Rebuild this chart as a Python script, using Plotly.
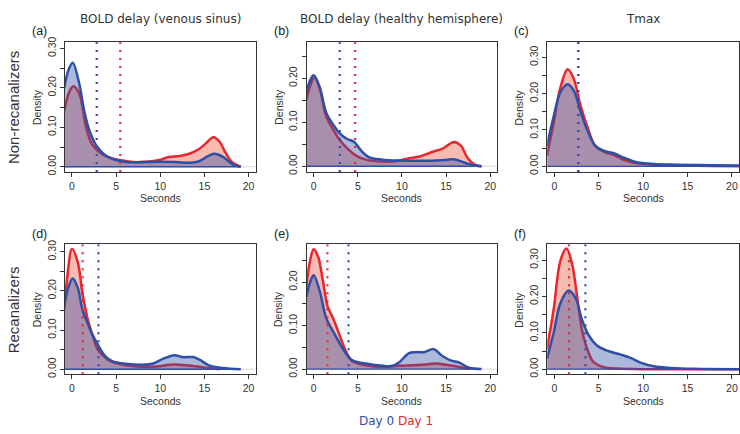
import plotly.graph_objects as go

W, H = 740, 434

col_titles = ["BOLD delay (venous sinus)", "BOLD delay (healthy hemisphere)", "Tmax"]
row_titles = ["Non-recanalizers", "Recanalizers"]
panel_letters = ["(a)", "(b)", "(c)", "(d)", "(e)", "(f)"]
x_tick_vals = [0, 5, 10, 15, 20]
series_names = ["Day 0", "Day 1"]

# ---- density curves (Day 0 = blue, Day 1 = red) ----
a_day0_x = [-0.87, -0.4, 0.08, 0.83, 1.4, 2.0, 2.8, 3.85, 5.0, 6.1, 8.0, 9.9, 11.8, 13.3, 14.4, 15.4, 16.1, 17.1, 18.2, 19.1]
a_day0_y = [0.20, 0.245, 0.264, 0.21, 0.14, 0.09, 0.052, 0.028, 0.017, 0.012, 0.012, 0.0125, 0.012, 0.010, 0.014, 0.027, 0.033, 0.025, 0.006, 0.0]
a_day1_x = [-0.87, -0.3, 0.15, 0.83, 1.6, 2.3, 3.1, 4.2, 5.4, 6.9, 8.4, 9.9, 11.0, 12.2, 13.3, 14.4, 15.2, 16.0, 16.7, 17.4, 18.2, 19.1]
a_day1_y = [0.143, 0.19, 0.204, 0.185, 0.10, 0.056, 0.037, 0.024, 0.017, 0.012, 0.0125, 0.017, 0.025, 0.027, 0.033, 0.045, 0.06, 0.075, 0.064, 0.035, 0.01, 0.0]

b_day0_x = [-0.83, -0.4, 0.0, 0.68, 1.43, 2.2, 2.9, 3.7, 4.6, 5.4, 6.3, 7.8, 9.7, 11.6, 13.5, 15.0, 15.9, 17.2, 18.3, 19.0]
b_day0_y = [0.166, 0.195, 0.207, 0.18, 0.121, 0.095, 0.076, 0.063, 0.055, 0.035, 0.02, 0.015, 0.013, 0.0127, 0.0127, 0.014, 0.016, 0.0075, 0.0015, 0.0]
b_day1_x = [-0.83, -0.35, 0.1, 0.68, 1.43, 2.2, 2.9, 3.9, 4.8, 5.9, 7.8, 9.7, 10.8, 12.0, 13.5, 14.6, 15.9, 16.7, 17.4, 18.3, 19.0]
b_day1_y = [0.15, 0.185, 0.203, 0.177, 0.113, 0.084, 0.061, 0.039, 0.024, 0.015, 0.0105, 0.0127, 0.018, 0.022, 0.033, 0.040, 0.055, 0.046, 0.02, 0.003, 0.0]

c_day0_x = [-0.83, -0.08, 0.68, 1.5, 2.2, 2.9, 3.7, 4.6, 5.6, 6.7, 7.8, 9.3, 11.2, 13.9, 17.6, 21.0]
c_day0_y = [0.056, 0.137, 0.204, 0.226, 0.208, 0.155, 0.10, 0.057, 0.042, 0.036, 0.024, 0.011, 0.0063, 0.0045, 0.0027, 0.0018]
c_day1_x = [-0.83, -0.08, 0.68, 1.5, 2.2, 2.9, 3.7, 4.6, 5.6, 6.7, 7.8, 9.3, 11.2, 13.9, 17.6, 21.0]
c_day1_y = [0.029, 0.119, 0.217, 0.267, 0.24, 0.172, 0.11, 0.056, 0.04, 0.031, 0.018, 0.008, 0.0045, 0.0027, 0.001, 0.0]

d_day0_x = [-0.87, -0.4, 0.08, 0.64, 1.2, 1.8, 2.3, 2.9, 3.7, 4.6, 6.1, 8.0, 9.1, 10.3, 11.6, 12.5, 13.7, 14.4, 15.5, 17.1, 19.1]
d_day0_y = [0.163, 0.21, 0.232, 0.209, 0.151, 0.116, 0.089, 0.064, 0.035, 0.02, 0.014, 0.0116, 0.014, 0.0265, 0.036, 0.031, 0.031, 0.025, 0.01, 0.0033, 0.0]
d_day1_x = [-0.87, -0.5, 0.0, 0.64, 1.2, 1.8, 2.3, 2.9, 3.5, 4.6, 6.1, 8.0, 9.9, 11.0, 12.2, 13.7, 14.8, 15.9, 16.7]
d_day1_y = [0.155, 0.242, 0.307, 0.275, 0.192, 0.126, 0.089, 0.051, 0.035, 0.018, 0.01, 0.006, 0.0075, 0.0116, 0.0116, 0.0083, 0.005, 0.0017, 0.0]

e_day0_x = [-0.83, -0.4, 0.0, 0.68, 1.43, 2.2, 2.9, 3.7, 4.4, 5.9, 7.8, 8.9, 9.7, 10.8, 11.6, 12.5, 13.6, 14.4, 15.5, 16.5, 17.6, 19.0]
e_day0_y = [0.166, 0.20, 0.216, 0.18, 0.117, 0.087, 0.061, 0.035, 0.02, 0.0127, 0.0075, 0.0075, 0.016, 0.037, 0.039, 0.039, 0.046, 0.033, 0.02, 0.015, 0.003, 0.0]
e_day1_x = [-0.83, -0.4, 0.0, 0.5, 1.05, 1.6, 2.2, 2.9, 3.7, 4.4, 5.9, 7.8, 9.7, 11.2, 12.7, 13.8, 15.3, 16.5, 17.6]
e_day1_y = [0.188, 0.25, 0.276, 0.259, 0.203, 0.143, 0.117, 0.08, 0.039, 0.018, 0.009, 0.005, 0.0075, 0.009, 0.0105, 0.0127, 0.009, 0.005, 0.0]

f_day0_x = [-0.83, -0.08, 0.68, 1.6, 2.4, 3.1, 3.9, 4.8, 5.95, 7.5, 8.6, 9.7, 11.2, 13.1, 15.7, 21.0]
f_day0_y = [0.029, 0.10, 0.181, 0.216, 0.195, 0.137, 0.092, 0.065, 0.051, 0.04, 0.031, 0.018, 0.008, 0.0036, 0.001, 0.0]
f_day1_x = [-0.83, -0.08, 0.68, 1.36, 2.0, 2.56, 3.1, 3.7, 4.4, 5.6, 7.1, 10.0, 21.0]
f_day1_y = [0.056, 0.164, 0.298, 0.332, 0.289, 0.20, 0.11, 0.056, 0.02, 0.0054, 0.0018, 0.0, 0.0]

# dotted reference lines (per panel a..f)
day0_center = [2.8, 2.96, 2.7, 3.0, 3.95, 3.5]
day1_center = [5.47, 4.7, 2.68, 1.21, 1.56, 1.65]

# y-axis ranges and ticks per panel
y_ranges = [[-0.0135, 0.316], [-0.0133, 0.282], [-0.016, 0.342],
            [-0.013, 0.319], [-0.012, 0.287], [-0.014, 0.343]]
y_tick_max = [0.30, 0.25, 0.30, 0.30, 0.25, 0.30]

panels = [
    (a_day0_x, a_day0_y, a_day1_x, a_day1_y),
    (b_day0_x, b_day0_y, b_day1_x, b_day1_y),
    (c_day0_x, c_day0_y, c_day1_x, c_day1_y),
    (d_day0_x, d_day0_y, d_day1_x, d_day1_y),
    (e_day0_x, e_day0_y, e_day1_x, e_day1_y),
    (f_day0_x, f_day0_y, f_day1_x, f_day1_y),
]

# ---- styling / layout ----
BLUE = "#2E4FA8"
RED = "#E8262E"
BLUE_FILL = "rgba(47,79,165,0.40)"
RED_FILL = "rgba(238,90,70,0.42)"
AX = "#333333"
TICKFONT = dict(family="Liberation Sans, Arial", size=10.5, color="#333333")
TITLEFONT = dict(family="DejaVu Sans", size=12, color="#333333")

col_px = [(65, 256), (307, 498), (548, 740)]
row_px = [(37, 170), (244, 377)]
x_range = [-0.8, 20.8]

def px_x(p):
    return p / W

def px_y(p):
    return 1 - p / H

fig = go.Figure()
layout = dict(width=W, height=H, margin=dict(l=0, r=0, t=0, b=0),
              paper_bgcolor="white", plot_bgcolor="white", showlegend=False)
annotations = []
shapes = []

for i, (x0s, y0s, x1s, y1s) in enumerate(panels):
    r, c = divmod(i, 3)
    sfx = "" if i == 0 else str(i + 1)
    xa, ya = "x" + sfx, "y" + sfx
    (cl, cr), (rt, rb) = col_px[c], row_px[r]

    nt = int(round(y_tick_max[i] / 0.05)) + 1
    tv = [round(k * 0.05, 2) for k in range(nt)]
    tt = [("%.2f" % v) if k % 2 == 0 else "" for k, v in enumerate(tv)]

    layout["xaxis" + sfx] = dict(domain=[px_x(cl), px_x(cr)], anchor=ya, range=x_range,
                                 showgrid=False, zeroline=False, showline=True, mirror=True,
                                 linecolor=AX, linewidth=1, ticks="outside", ticklen=4,
                                 tickcolor=AX, tickvals=x_tick_vals, tickfont=TICKFONT,
                                 ticklabeloverflow="allow")
    layout["yaxis" + sfx] = dict(domain=[px_y(rb), px_y(rt)], anchor=xa, range=y_ranges[i],
                                 showgrid=False, zeroline=False, showline=True, mirror=True,
                                 linecolor=AX, linewidth=1, ticks="outside", ticklen=4,
                                 tickcolor=AX, tickvals=tv, ticktext=tt, tickangle=-90,
                                 tickfont=TICKFONT, ticklabeloverflow="allow")

    # light baseline across the panel
    fig.add_trace(go.Scatter(x=x_range, y=[0, 0], mode="lines", xaxis=xa, yaxis=ya,
                             line=dict(color="#D8D8DE", width=1), hoverinfo="skip"))
    # Day 1 (red) first, Day 0 (blue) on top
    fig.add_trace(go.Scatter(x=x1s, y=y1s, mode="lines", xaxis=xa, yaxis=ya, name=series_names[1],
                             line=dict(color=RED, width=2.5, shape="spline", smoothing=1.0),
                             fill="tozeroy", fillcolor=RED_FILL))
    fig.add_trace(go.Scatter(x=x0s, y=y0s, mode="lines", xaxis=xa, yaxis=ya, name=series_names[0],
                             line=dict(color=BLUE, width=2.5, shape="spline", smoothing=1.0),
                             fill="tozeroy", fillcolor=BLUE_FILL))
    # blue baseline under the density
    fig.add_trace(go.Scatter(x=[x0s[0], x0s[-1]], y=[0, 0], mode="lines", xaxis=xa, yaxis=ya,
                             line=dict(color=BLUE, width=1.3), hoverinfo="skip"))

    # dotted centre lines
    for val, colr in ((day1_center[i], RED), (day0_center[i], BLUE)):
        shapes.append(dict(type="line", xref=xa, yref=ya + " domain", x0=val, x1=val, y0=0, y1=1,
                           line=dict(color=colr, width=2.2, dash="2px,6px"), layer="above"))

    # panel letter
    annotations.append(dict(text=panel_letters[i], x=px_x(cl - 35), y=px_y(rt - 11),
                            xref="paper", yref="paper", xanchor="left", yanchor="middle",
                            showarrow=False, font=dict(family="Liberation Sans, Arial", size=12.5, color="#222")))
    # axis titles
    annotations.append(dict(text="Seconds", x=px_x((cl + cr) / 2), y=px_y(rb + 27),
                            xref="paper", yref="paper", xanchor="center", yanchor="middle",
                            showarrow=False, font=TICKFONT))
    annotations.append(dict(text="Density", x=px_x(cl - 28), y=px_y((rt + rb) / 2),
                            xref="paper", yref="paper", xanchor="center", yanchor="middle",
                            textangle=-90, showarrow=False, font=TICKFONT))

# column titles
for c, t in enumerate(col_titles):
    cl, cr = col_px[c]
    annotations.append(dict(text=t, x=px_x((cl + cr) / 2), y=px_y(13), xref="paper", yref="paper",
                            xanchor="center", yanchor="middle", showarrow=False, font=TITLEFONT))
# row titles
for r, t in enumerate(row_titles):
    rt, rb = row_px[r]
    annotations.append(dict(text=t, x=px_x(13), y=px_y((rt + rb) / 2), xref="paper", yref="paper",
                            xanchor="center", yanchor="middle", textangle=-90, showarrow=False,
                            font=dict(family="Liberation Sans, Arial", size=15, color="#333")))
# legend text
annotations.append(dict(text=f"<span style='color:{BLUE}'>{series_names[0]}</span> "
                             f"<span style='color:{RED}'>{series_names[1]}</span>",
                        x=px_x(397), y=px_y(425), xref="paper", yref="paper",
                        xanchor="center", yanchor="middle", showarrow=False,
                        font=dict(family="DejaVu Sans", size=12)))

layout["annotations"] = annotations
layout["shapes"] = shapes
fig.update_layout(**layout)
fig.write_html("out.html", config={"displayModeBar": False},
               post_script="document.body.style.margin='0';document.body.style.overflow='hidden';")
